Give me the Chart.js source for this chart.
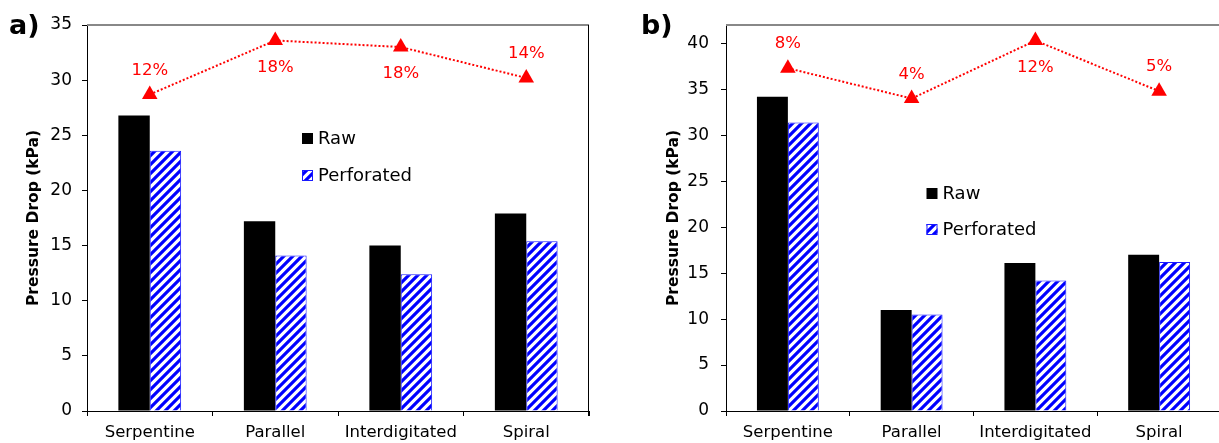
<!DOCTYPE html>
<html>
<head>
<meta charset="utf-8">
<script src="https://cdn.jsdelivr.net/npm/chart.js@4.4.1/dist/chart.umd.min.js"></script>
<style>
html, body { margin: 0; padding: 0; background: #fff; overflow: hidden; width: 1219px; height: 443px; }
canvas { position: absolute; top: 0; }
</style>
</head>
<body>
<canvas id="chartA" width="600" height="443" style="left:0"></canvas>
<canvas id="chartB" width="620" height="443" style="left:610px"></canvas>
<script>
// categories, same for both panels
const categories = ['Serpentine', 'Parallel', 'Interdigitated', 'Spiral'];

// panel a)
const rawA = [26.8, 17.2, 15.0, 17.9];
const perfA = [23.6, 14.1, 12.4, 15.4];
const markerA = [28.7, 33.6, 33.0, 30.2];
const pctA = ['12%', '18%', '18%', '14%'];
const pctSideA = ['above', 'below', 'below', 'above'];
const yTicksA = [0, 5, 10, 15, 20, 25, 30, 35];

// panel b)
const rawB = [34.2, 11.0, 16.1, 17.0];
const perfB = [31.4, 10.5, 14.2, 16.2];
const markerB = [37.3, 34.0, 40.3, 34.8];
const pctB = ['8%', '4%', '12%', '5%'];
const pctSideB = ['above', 'above', 'below', 'above'];
const yTicksB = [0, 5, 10, 15, 20, 25, 30, 35, 40];

const FONT = 'DejaVu Sans';

// blue diagonal hatch for the perforated bars
function hatch() {
    const n = 9;
    const c = document.createElement('canvas');
    c.width = n; c.height = n;
    const g = c.getContext('2d');
    g.fillStyle = '#fff';
    g.fillRect(0, 0, n, n);
    g.strokeStyle = '#0000ff';
    g.lineWidth = 3.2;
    g.beginPath();
    g.moveTo(-3, 3); g.lineTo(3, -3);
    g.moveTo(-3, n + 3); g.lineTo(n + 3, -3);
    g.moveTo(n - 3, n + 3); g.lineTo(n + 3, n - 3);
    g.stroke();
    return g.createPattern(c, 'repeat');
}

// percent labels next to the triangles
const pctLabels = {
    id: 'pctLabels',
    afterDatasetsDraw(chart, args, opts) {
        const ctx = chart.ctx;
        const meta = chart.getDatasetMeta(2);
        ctx.save();
        ctx.font = '16.5px "' + FONT + '"';
        ctx.fillStyle = '#ff0000';
        ctx.textAlign = 'center';
        ctx.textBaseline = 'middle';
        meta.data.forEach((pt, i) => {
            const dy = opts.side[i] === 'above' ? -24 : 27;
            ctx.fillText(opts.text[i], pt.x, pt.y + dy);
        });
        ctx.restore();
    }
};

// stacked legend inside the plot
const boxLegend = {
    id: 'boxLegend',
    afterDraw(chart, args, opts) {
        const ctx = chart.ctx;
        ctx.save();
        ctx.font = '18px "' + FONT + '"';
        ctx.textBaseline = 'middle';
        ctx.textAlign = 'left';
        [0, 1].forEach(i => {
            const ds = chart.data.datasets[i];
            const y = opts.y + i * opts.gap;
            ctx.fillStyle = ds.backgroundColor;
            ctx.fillRect(opts.x, y - 5.5, 11, 11);
            if (ds.borderWidth) {
                ctx.strokeStyle = ds.borderColor;
                ctx.lineWidth = 1;
                ctx.strokeRect(opts.x + 0.5, y - 5, 10, 10);
            }
            ctx.fillStyle = '#000';
            ctx.fillText(ds.label, opts.x + 16, y + 1);
        });
        ctx.restore();
    }
};

// gray top edge, black right edge, panel letter
const frame = {
    id: 'frame',
    afterDraw(chart, args, opts) {
        const ctx = chart.ctx;
        const a = chart.chartArea;
        ctx.save();
        ctx.strokeStyle = '#888';
        ctx.lineWidth = 2;
        ctx.beginPath();
        ctx.moveTo(a.left, a.top);
        ctx.lineTo(a.right, a.top);
        ctx.stroke();
        ctx.strokeStyle = '#000';
        ctx.lineWidth = 1;
        ctx.beginPath();
        ctx.moveTo(a.right - 0.5, a.top);
        ctx.lineTo(a.right - 0.5, a.bottom + 5);
        ctx.stroke();
        ctx.font = 'bold 27px "' + FONT + '"';
        ctx.fillStyle = '#000';
        ctx.textBaseline = 'alphabetic';
        ctx.fillText(opts.letter, opts.lx, opts.ly);
        ctx.restore();
    }
};

function makeChart(id, raw, perf, marker, pct, side, yTicks, o) {
    const pattern = hatch();
    return new Chart(document.getElementById(id), {
        type: 'bar',
        data: {
            labels: categories,
            datasets: [
                {
                    label: 'Raw',
                    data: raw,
                    backgroundColor: '#000',
                    borderWidth: 0,
                    categoryPercentage: 0.5,
                    barPercentage: 1.0,
                    order: 1
                },
                {
                    label: 'Perforated',
                    data: perf,
                    backgroundColor: pattern,
                    borderColor: '#1a1aff',
                    borderWidth: 1,
                    categoryPercentage: 0.5,
                    barPercentage: 1.0,
                    order: 1
                },
                {
                    type: 'line',
                    label: 'reduction',
                    data: marker,
                    borderColor: '#ff0000',
                    borderWidth: 2,
                    borderDash: [2, 2],
                    tension: 0,
                    pointStyle: 'triangle',
                    pointRadius: 9,
                    pointBackgroundColor: '#ff0000',
                    pointBorderColor: '#ff0000',
                    pointBorderWidth: 0,
                    order: 0
                }
            ]
        },
        options: {
            responsive: false,
            animation: false,
            layout: { padding: { top: 25, right: o.padRight, bottom: 0, left: 0 } },
            plugins: {
                legend: { display: false },
                tooltip: { enabled: false },
                pctLabels: { text: pct, side: side },
                boxLegend: { x: o.legX, y: o.legY, gap: o.legGap },
                frame: { letter: o.letter, lx: o.lx, ly: 34 }
            },
            scales: {
                x: {
                    offset: true,
                    grid: { display: true, drawOnChartArea: false, drawTicks: true, tickLength: 5, color: '#000', offset: true },
                    border: { display: true, color: '#000', width: 1 },
                    ticks: { font: { family: FONT, size: 16.5 }, color: '#000', padding: 7, maxRotation: 0, autoSkip: false },
                    afterFit(s) {
                        s.height = 32;
                        s.paddingLeft = 0;
                        s.paddingRight = 0;
                    }
                },
                y: {
                    min: 0,
                    max: o.yMax,
                    afterBuildTicks(s) { s.ticks = yTicks.map(v => ({ value: v })); },
                    grid: { display: true, drawOnChartArea: false, drawTicks: true, tickLength: 5, color: '#000' },
                    border: { display: true, color: '#000', width: 1 },
                    ticks: { font: { family: FONT, size: 17 }, color: '#000', padding: o.tickPad },
                    title: {
                        display: true,
                        text: 'Pressure Drop (kPa)',
                        font: { family: FONT, size: 15.5, weight: 'bold' },
                        color: '#000',
                        padding: { top: o.titlePad, bottom: 0 }
                    },
                    afterFit(s) { s.width = o.yWidth; }
                }
            }
        },
        plugins: [pctLabels, boxLegend, frame]
    });
}

makeChart('chartA', rawA, perfA, markerA, pctA, pctSideA, yTicksA, {
    yMax: 35, yWidth: 87, padRight: 11, tickPad: 10, titlePad: 25,
    legX: 302, legY: 138.5, legGap: 37, letter: 'a)', lx: 9
});
makeChart('chartB', rawB, perfB, markerB, pctB, pctSideB, yTicksB, {
    yMax: 42, yWidth: 116, padRight: 2, tickPad: 12, titlePad: 55,
    legX: 316.5, legY: 193.5, legGap: 36, letter: 'b)', lx: 31
});
</script>
</body>
</html>
